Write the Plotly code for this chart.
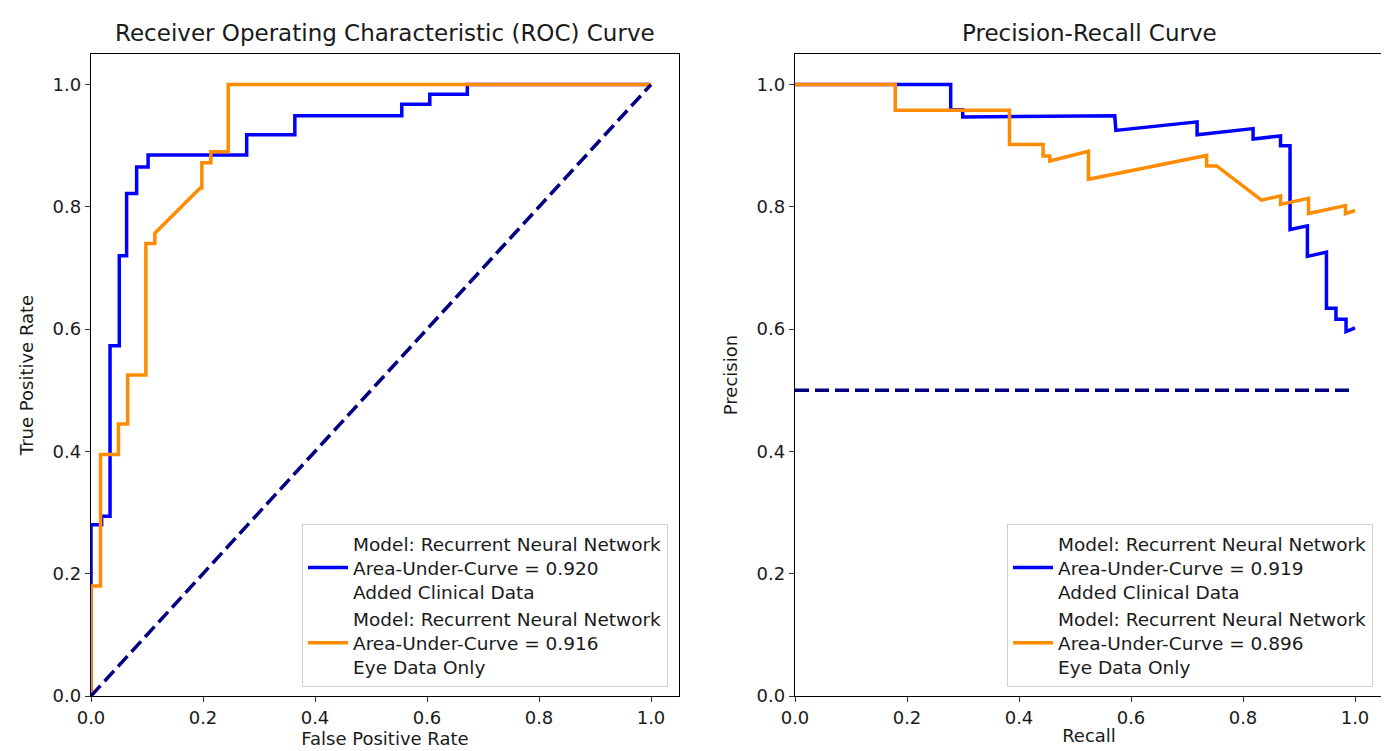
import plotly.graph_objects as go

# ---------------- data ----------------
roc_fpr_clinical = [0.0, 0.0, 0.019, 0.019, 0.034, 0.034, 0.0505, 0.0505, 0.0636, 0.0636,
                    0.0815, 0.0815, 0.102, 0.102, 0.278, 0.278, 0.364, 0.364, 0.555, 0.555,
                    0.605, 0.605, 0.672, 0.672, 1.0]
roc_tpr_clinical = [0.0, 0.28, 0.28, 0.294, 0.294, 0.573, 0.573, 0.72, 0.72, 0.822,
                    0.822, 0.865, 0.865, 0.885, 0.885, 0.918, 0.918, 0.949, 0.949, 0.968,
                    0.968, 0.984, 0.984, 1.0, 1.0]

roc_fpr_eye = [0.0, 0.0, 0.017, 0.017, 0.049, 0.049, 0.0655, 0.0655, 0.098, 0.098,
               0.114, 0.114, 0.195, 0.198, 0.198, 0.214, 0.214, 0.245, 0.245, 1.0]
roc_tpr_eye = [0.0, 0.18, 0.18, 0.395, 0.395, 0.445, 0.445, 0.525, 0.525, 0.74,
               0.74, 0.757, 0.831, 0.831, 0.872, 0.872, 0.89, 0.89, 1.0, 1.0]

pr_recall_clinical = [0.0, 0.278, 0.278, 0.2995, 0.2995, 0.571, 0.573, 0.718, 0.718, 0.818,
                      0.818, 0.867, 0.867, 0.884, 0.884, 0.915, 0.915, 0.949, 0.949, 0.966,
                      0.966, 0.984, 0.984, 1.0]
pr_precision_clinical = [1.0, 1.0, 0.959, 0.959, 0.947, 0.949, 0.925, 0.939, 0.918, 0.928,
                         0.911, 0.916, 0.900, 0.900, 0.763, 0.769, 0.719, 0.726, 0.634, 0.634,
                         0.616, 0.616, 0.596, 0.602]

pr_recall_eye = [0.0, 0.179, 0.179, 0.383, 0.383, 0.443, 0.443, 0.455, 0.455, 0.524,
                 0.524, 0.735, 0.735, 0.753, 0.833, 0.867, 0.867, 0.917, 0.917, 0.983,
                 0.983, 1.0]
pr_precision_eye = [1.0, 1.0, 0.958, 0.958, 0.902, 0.902, 0.883, 0.883, 0.875, 0.891,
                    0.845, 0.884, 0.867, 0.867, 0.811, 0.818, 0.804, 0.814, 0.789, 0.802,
                    0.789, 0.794]

chance_roc_x = [0.0, 1.0]
chance_roc_y = [0.0, 1.0]
chance_pr_x = [0.0, 1.0]
chance_pr_y = [0.5, 0.5]

model_name = "Recurrent Neural Network"
roc_auc_clinical = 0.920
roc_auc_eye = 0.916
pr_auc_clinical = 0.919
pr_auc_eye = 0.896
label_clinical = "Added Clinical Data"
label_eye = "Eye Data Only"

tick_vals = [0.0, 0.2, 0.4, 0.6, 0.8, 1.0]
tick_text = ["0.0", "0.2", "0.4", "0.6", "0.8", "1.0"]

# ---------------- styling ----------------
W, H = 1389, 751
OFF = 8  # page body margin of the browser
ML, MT = 91 - OFF, 54 - OFF
MR = W - (1383 - OFF)
MB = H - (696 - OFF)
PW, PH = W - ML - MR, H - MT - MB
BLUE = "#0000ff"
ORANGE = "#ff8c00"
NAVY = "#000080"
FONT = "DejaVu Sans"
TXT = "#1a1a1a"


def px_x(px):
    return (px - OFF - ML) / PW


def px_y(py):
    return (H - MB - (py - OFF)) / PH


def name(auc, label):
    return f"Model: {model_name}<br>Area-Under-Curve = {auc:.3f}<br>{label}"


fig = go.Figure()

# ROC
fig.add_trace(go.Scatter(x=roc_fpr_clinical, y=roc_tpr_clinical, mode="lines",
                         line=dict(color=BLUE, width=3.5),
                         name=name(roc_auc_clinical, label_clinical),
                         xaxis="x", yaxis="y", legend="legend"))
fig.add_trace(go.Scatter(x=roc_fpr_eye, y=roc_tpr_eye, mode="lines",
                         line=dict(color=ORANGE, width=3.5),
                         name=name(roc_auc_eye, label_eye),
                         xaxis="x", yaxis="y", legend="legend"))
fig.add_trace(go.Scatter(x=chance_roc_x, y=chance_roc_y, mode="lines",
                         line=dict(color=NAVY, width=3.5, dash="14px,6px"),
                         showlegend=False, xaxis="x", yaxis="y"))

# PR
fig.add_trace(go.Scatter(x=pr_recall_clinical, y=pr_precision_clinical, mode="lines",
                         line=dict(color=BLUE, width=3.5),
                         name=name(pr_auc_clinical, label_clinical),
                         xaxis="x2", yaxis="y2", legend="legend2"))
fig.add_trace(go.Scatter(x=pr_recall_eye, y=pr_precision_eye, mode="lines",
                         line=dict(color=ORANGE, width=3.5),
                         name=name(pr_auc_eye, label_eye),
                         xaxis="x2", yaxis="y2", legend="legend2"))
fig.add_trace(go.Scatter(x=chance_pr_x, y=chance_pr_y, mode="lines",
                         line=dict(color=NAVY, width=3.5, dash="14px,6px"),
                         showlegend=False, xaxis="x2", yaxis="y2"))

x1_dom = [px_x(91), px_x(679)]
x2_dom = [px_x(795), px_x(1383)]

axis_common = dict(
    range=[0, 1.05], showgrid=False, zeroline=False, automargin=False,
    showline=True, linecolor="black", linewidth=1.3, mirror=True,
    ticks="outside", ticklen=5, tickwidth=1.3, tickcolor="#333",
    tickvals=tick_vals, ticktext=tick_text,
    tickfont=dict(family=FONT, size=18, color=TXT),
)
title_font = dict(family=FONT, size=18, color=TXT)

legend_common = dict(
    xanchor="right", yanchor="bottom",
    bgcolor="rgba(255,255,255,0.85)", bordercolor="#d0d0d0", borderwidth=1,
    font=dict(family=FONT, size=18.5, color=TXT), itemwidth=40, tracegroupgap=4,
)

fig.update_layout(
    width=W, height=H,
    paper_bgcolor="white", plot_bgcolor="white",
    margin=dict(l=ML, r=MR, t=MT, b=MB, autoexpand=False),
    font=dict(family=FONT, color=TXT),
    xaxis=dict(domain=x1_dom, anchor="y", **axis_common,
               title=dict(text="False Positive Rate", font=title_font, standoff=2)),
    yaxis=dict(domain=[0, 1], anchor="x", **axis_common,
               title=dict(text="True Positive Rate", font=title_font, standoff=14)),
    xaxis2=dict(domain=x2_dom, anchor="y2", **axis_common,
                title=dict(text="Recall", font=title_font, standoff=2)),
    yaxis2=dict(domain=[0, 1], anchor="x2", **axis_common,
                title=dict(text="Precision", font=title_font, standoff=14)),
    legend=dict(x=px_x(668), y=px_y(687), **legend_common),
    legend2=dict(x=px_x(1373), y=px_y(687), **legend_common),
    annotations=[
        dict(text="Receiver Operating Characteristic (ROC) Curve", x=sum(x1_dom) / 2,
             y=px_y(33), xref="paper", yref="paper", showarrow=False,
             xanchor="center", yanchor="middle", font=dict(family=FONT, size=23, color=TXT)),
        dict(text="Precision-Recall Curve", x=sum(x2_dom) / 2,
             y=px_y(33), xref="paper", yref="paper", showarrow=False,
             xanchor="center", yanchor="middle", font=dict(family=FONT, size=23, color=TXT)),
    ],
)

fig.write_html("out.html")
